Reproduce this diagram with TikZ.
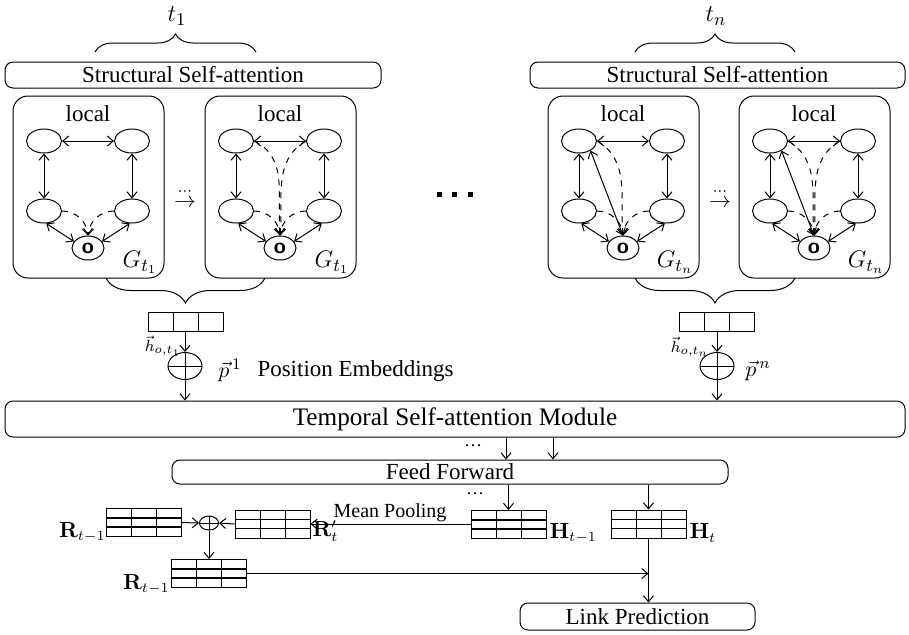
\documentclass[tikz,border=0pt]{standalone}
\usepackage[no-math]{fontspec}
\setmainfont{Liberation Serif}
\usetikzlibrary{arrows.meta,shapes.geometric,decorations.pathreplacing,calc}

\tikzset{
  >={Straight Barb[length=3pt,width=5pt]},
  txt/.style={font=\fontsize{11.5}{13}\selectfont, inner sep=0pt},
  bigtxt/.style={font=\fontsize{12.6}{15}\selectfont, inner sep=0pt},
  rbox/.style={draw, rounded corners=4pt, inner sep=0pt},
  lbox/.style={draw, rounded corners=7.5pt, minimum width=75.5pt, minimum height=91pt},
  gnode/.style={draw, ellipse, minimum width=17.5pt, minimum height=12pt, inner sep=0pt},
  onode/.style={gnode, minimum width=16pt, minimum height=12pt, font=\sffamily\bfseries\fontsize{11}{12}\selectfont},
  glab/.style={font=\fontsize{11}{12}\selectfont, inner sep=0pt},
  gname/.style={font=\fontsize{12.5}{14}\selectfont, inner sep=0pt},
  mlab/.style={font=\fontsize{10.5}{12}\selectfont, inner sep=0pt},
  brc/.style={decorate, decoration={brace, amplitude=#1}},
  vec3/.style={draw, inner sep=0pt, minimum width=37.5pt, minimum height=9.5pt, path picture={
      \foreach \i in {1,2}
        \draw ($(path picture bounding box.north west)!\i/3!(path picture bounding box.north east)$)
           -- ($(path picture bounding box.south west)!\i/3!(path picture bounding box.south east)$);}},
  mat3/.style={draw, inner sep=0pt, minimum width=37.5pt, minimum height=14pt, path picture={
      \foreach \i in {1,2}{
        \draw ($(path picture bounding box.north west)!\i/3!(path picture bounding box.north east)$)
           -- ($(path picture bounding box.south west)!\i/3!(path picture bounding box.south east)$);
        \draw[line width=0.7pt] ($(path picture bounding box.north west)!\i/3!(path picture bounding box.south west)$)
           -- ($(path picture bounding box.north east)!\i/3!(path picture bounding box.south east)$);}}},
  oplus/.style={draw, ellipse, inner sep=0pt, path picture={
      \draw (path picture bounding box.west) -- (path picture bounding box.east)
            (path picture bounding box.north) -- (path picture bounding box.south);}},
}

% one local snapshot graph: #1 name prefix, #2 horizontal offset, #3 graph label
\newcommand\localgraph[3]{%
  \begin{scope}[xshift=#2*0.5pt]
    \node[lbox] (#1box) at (88.5,187) {};
    \node[txt] (#1loc) at (88,114) {local};
    \node[gnode] (#1tl) at (44,141) {};
    \node[gnode] (#1tr) at (132,141) {};
    \node[gnode] (#1bl) at (44,211) {};
    \node[gnode] (#1br) at (132,211) {};
    \node[onode] (#1o) at (88,248) {o};
    \node[gname] (#1g) at (140,262) {#3};
  \end{scope}
  \draw[<->] (#1tl) -- (#1tr);
  \draw[<->] (#1tl) -- (#1bl);
  \draw[<->] (#1tr) -- (#1br);
  \draw[<->] (#1bl.-80) -- (#1o.155);
  \draw[<->] (#1br.-100) -- (#1o.25);
  \draw[dashed,->] (#1bl.east) to[out=0,in=95] (#1o.north);
  \draw[dashed,->] (#1br.west) to[out=180,in=85] (#1o.north);
}

\begin{document}
\begin{tikzpicture}[x=0.5pt, y=-0.5pt, line width=0.5pt]
  \useasboundingbox (0,0) rectangle (909,634);

  % time-step labels and braces
  \node[font=\fontsize{13}{14}\selectfont, inner sep=0pt] (t1) at (177,16) {$t_1$};
  \node[font=\fontsize{13}{14}\selectfont, inner sep=0pt] (tn) at (716,16) {$t_n$};
  \draw[brc=9pt] (95,52) -- (256,52);
  \draw[brc=9pt] (635,52) -- (795,52);

  % structural attention blocks
  \node[rbox, txt, minimum width=188pt, minimum height=13pt] (ss1) at (193,75) {Structural Self-attention};
  \node[rbox, txt, minimum width=187.5pt, minimum height=13pt] (ss2) at (717.5,75) {Structural Self-attention};

  % local graphs
  \localgraph{a}{0}{$G_{t_1}$}
  \localgraph{b}{192}{$G_{t_1}$}
  \localgraph{c}{535}{$G_{t_n}$}
  \localgraph{d}{726}{$G_{t_n}$}

  \draw[dashed,->] (btl.east) to[out=-25,in=95] (bo.north);
  \draw[dashed,->] (btr.west) to[out=-150,in=85] (bo.north);

  \draw[<->] (ctl.-40) -- (co.north);
  \draw[dashed,->] (ctl.east) to[out=-30,in=95] (co.north);

  \draw[<->] (dtl.-40) -- (do.north);
  \draw[dashed,->] (dtl.east) to[out=-30,in=95] (do.north);
  \draw[dashed,->] (dtr.west) to[out=-150,in=85] (do.north);

  % evolution between snapshots
  \node[glab] (ev1) at (185,197) {$\stackrel{\cdots}{\rightarrow}$};
  \node[glab] (ev2) at (720,197) {$\stackrel{\cdots}{\rightarrow}$};

  % omitted time steps
  \foreach \xx in {439,454,470}
    \fill (\xx-2.5,192) rectangle (\xx+2.5,196.5);

  % aggregation braces below the graphs
  \draw[brc=12.5pt] (265,278) -- (106,278);
  \draw[brc=12.5pt] (795,278) -- (635,278);

  % node embeddings and position embeddings
  \node[vec3] (h1) at (185.5,321.5) {};
  \node[vec3] (hn) at (716.5,322) {};
  \node[font=\fontsize{8}{9}\selectfont, inner sep=0pt] (lh1) at (163,346) {$\vec{h}_{o,t_1}$};
  \node[font=\fontsize{8}{9}\selectfont, inner sep=0pt] (lhn) at (690,347) {$\vec{h}_{o,t_n}$};

  \node[oplus, minimum width=17pt, minimum height=13.5pt] (p1) at (185,366) {};
  \node[oplus, minimum width=17pt, minimum height=13.5pt] (pn) at (717,366) {};
  \node[glab] (lp1) at (230,370) {$\vec{p}^{\,1}$};
  \node[txt, anchor=west] (pe) at (257,371) {Position Embeddings};
  \node[glab] (lpn) at (758,371) {$\vec{p}^{\,n}$};

  \draw[->] (h1.south -| p1) -- (p1.north);
  \draw[->] (hn.south -| pn) -- (pn.north);

  % temporal attention
  \node[rbox, bigtxt, minimum width=450pt, minimum height=18pt] (temp) at (455,419) {Temporal Self-attention Module};
  \draw[->] (p1.south) -- (p1.south |- temp.north);
  \draw[->] (pn.south) -- (pn.south |- temp.north);

  \node[rbox, txt, minimum width=278pt, minimum height=12pt] (ff) at (450,472) {Feed Forward};
  \coordinate (k1) at (506,0);
  \coordinate (k2) at (553,0);
  \draw[->] (temp.south -| k1) -- (ff.north -| k1);
  \draw[->] (temp.south -| k2) -- (ff.north -| k2);
  \node[font=\fontsize{9}{10}\selectfont, inner sep=0pt] (dots1) at (473,446) {\ldots};

  % hidden states and representations
  \node[mat3] (hprev) at (508.5,524.5) {};
  \node[mat3] (ht) at (648.5,524) {};
  \node[mlab, anchor=west] (lhprev) at (549,533) {$\mathbf{H}_{t-1}$};
  \node[mlab, anchor=west] (lht) at (689,533) {$\mathbf{H}_{t}$};
  \node[font=\fontsize{9}{10}\selectfont, inner sep=0pt] (dots2) at (475,494) {\ldots};
  \draw[->] (ff.south -| hprev.north) -- (hprev.north);
  \draw[->] (ff.south -| ht.north) -- (ht.north);

  \node[mat3] (rp) at (272.5,524) {};
  \node[mlab, anchor=west] (lrp) at (312,531) {$\mathbf{R}'_{t}$};
  \draw[->] (hprev.west) -- (rp.east -| hprev.west) -- (rp.east);
  \node[font=\fontsize{10}{11}\selectfont, inner sep=0pt] (mp) at (390,513) {Mean Pooling};

  \node[oplus, minimum width=9.5pt, minimum height=7pt] (ps) at (209,523) {};
  \node[mat3] (r1) at (143.5,522.5) {};
  \node[mlab, anchor=east] (lr1) at (106,532) {$\mathbf{R}_{t-1}$};
  \node[mat3] (r2) at (208.5,573.5) {};
  \node[mlab, anchor=east] (lr2) at (170,584) {$\mathbf{R}_{t-1}$};

  \draw[->] (r1.east) -- (ps.west);
  \draw[->] (rp.west) -- (ps.east);
  \draw[->] (ps.south) -- (r2.north -| ps.south);

  % prediction head
  \node[rbox, txt, minimum width=117.5pt, minimum height=13.5pt] (lp) at (637.5,616.5) {Link Prediction};
  \draw[->] (ht.south) -- (ht.south |- lp.north);
  \draw[->] (r2.east) -- (r2.east -| ht.south);
\end{tikzpicture}
\end{document}
